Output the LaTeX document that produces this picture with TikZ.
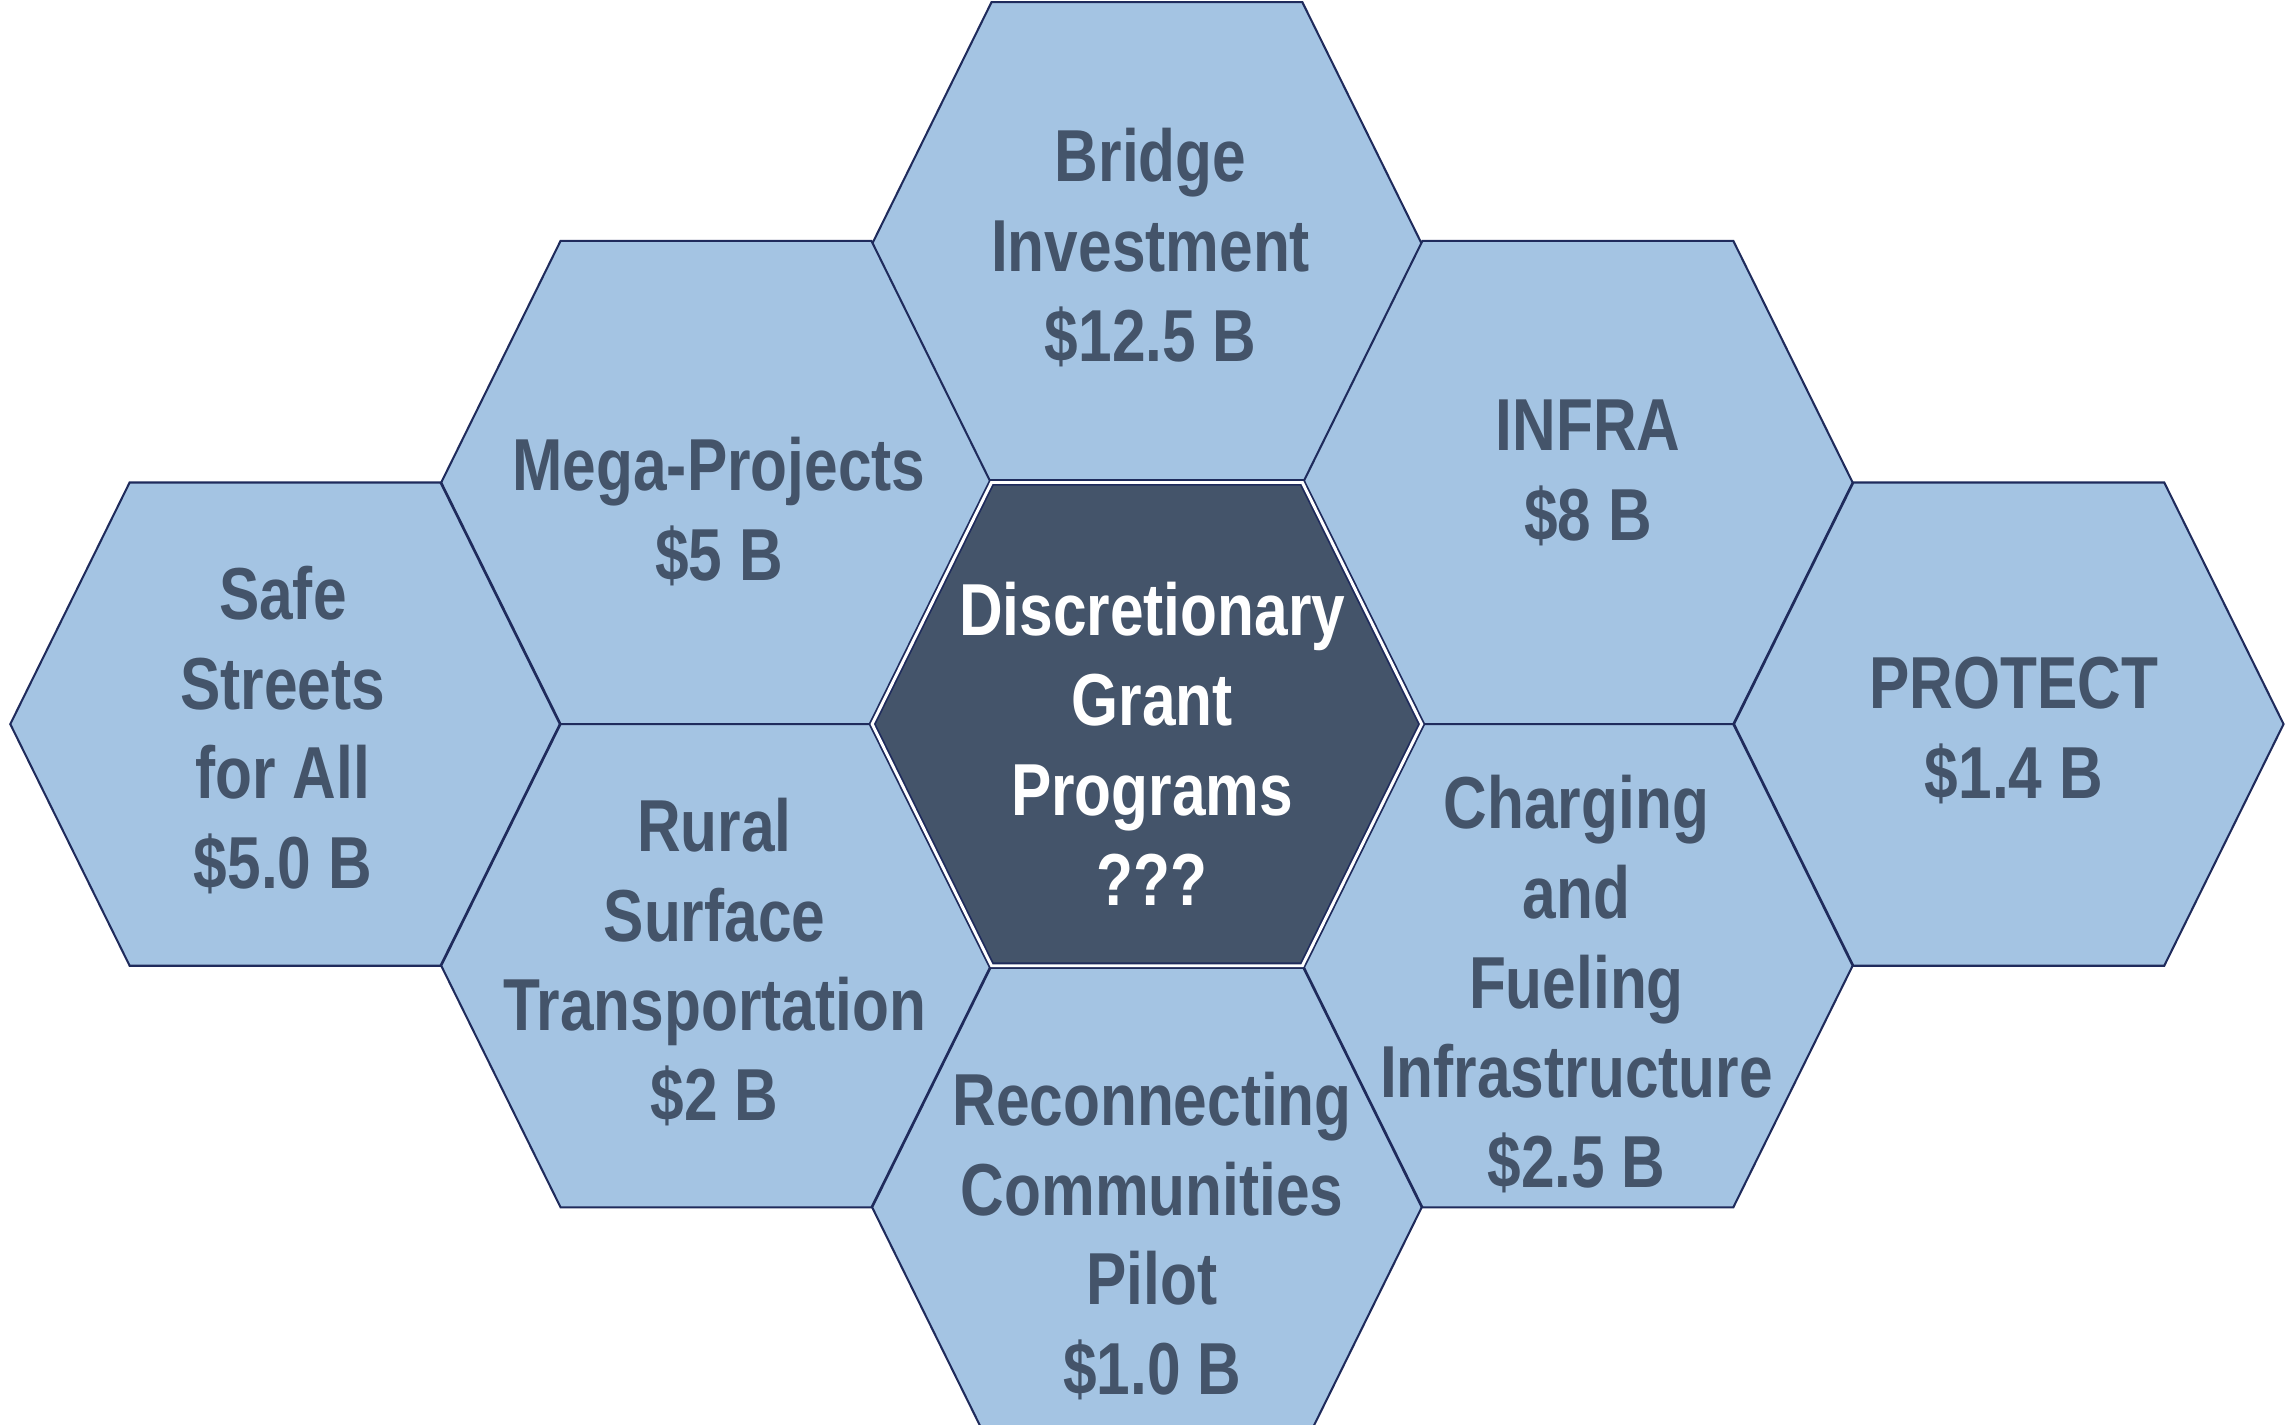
\documentclass[tikz,border=0pt]{standalone}
\usepackage{fontspec}
\setmainfont{Liberation Sans}[FakeStretch=0.82]
\usepackage{tikz}

\definecolor{cellfill}{HTML}{A4C4E3}
\definecolor{cellline}{HTML}{1F2B5C}
\definecolor{celltext}{HTML}{44546A}

\tikzset{
  cell/.style={draw=cellline, line width=0.7pt, fill=cellfill},
  hub/.style={draw=cellline, line width=0.6pt, double=white, double distance=1pt, fill=celltext},
  celllabel/.style={align=center, inner sep=0pt, text=celltext, font=\fontsize{25}{30.5}\selectfont\bfseries},
  hublabel/.style={celllabel, text=white}
}

\begin{document}
\begin{tikzpicture}[x=0.5pt, y=0.5pt]

  \newcommand\HW{186.5};  % half width of a cell
  \newcommand\HH{164};    % half height of a cell
  \newcommand\HI{81};     % slant inset
  \newcommand\hexcell[3]{%
    \draw[#3] ({#1-\HW},#2) -- ++(\HI,\HH) -- ++({2*\HW-2*\HI},0) -- ++(\HI,-\HH)
      -- ++(-\HI,-\HH) -- ++({-2*\HW+2*\HI},0) -- cycle;}

  \useasboundingbox (-778.5,-475.5) rectangle (774.5,491.5);
  \clip (-778.5,-475.5) rectangle (774.5,491.5);

  %% outer ring
  \hexcell{0}{326}{cell};        % bridge
  \hexcell{0}{-328}{cell};       % reconnecting
  \hexcell{-292.5}{164}{cell};   % mega
  \hexcell{-292.5}{-164}{cell};  % rural
  \hexcell{292.5}{164}{cell};    % infra
  \hexcell{292.5}{-164}{cell};   % charging
  \hexcell{-585}{0}{cell};       % safe streets
  \hexcell{585}{0}{cell};        % protect

  %% hub
  \hexcell{0}{0}{hub};

  \node[celllabel] (bridge) at (2.5,323.5) {Bridge\\Investment\\\$12.5 B};
  \node[celllabel] (mega) at (-290.5,144.5) {Mega-Projects\\\$5 B};
  \node[celllabel] (safe) at (-586.5,-4) {Safe\\Streets\\for All\\\$5.0 B};
  \node[celllabel] (infra) at (299.5,170.5) {INFRA\\\$8 B};
  \node[celllabel] (protect) at (588.5,-4.5) {PROTECT\\\$1.4 B};
  \node[celllabel] (rural) at (-293.5,-161.5) {Rural\\Surface\\Transportation\\\$2 B};
  \node[celllabel] (reconnect) at (3.5,-347.5) {Reconnecting\\Communities\\Pilot\\\$1.0 B};
  \node[celllabel] (charging) at (291.5,-176.5) {Charging\\and\\Fueling\\Infrastructure\\\$2.5 B};
  \node[hublabel] (hub) at (3.5,-13.5) {Discretionary\\Grant\\Programs\\???};

\end{tikzpicture}
\end{document}
